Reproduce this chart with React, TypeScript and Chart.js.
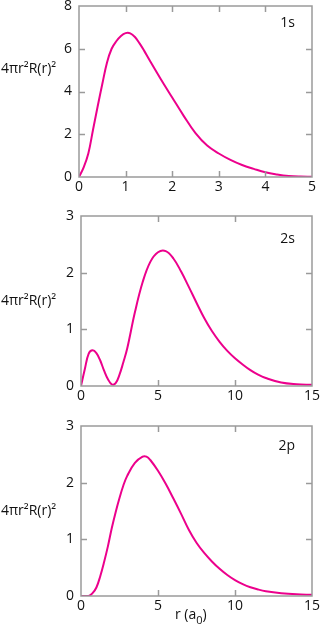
import React, { useEffect, useRef } from "react";
import { Chart, registerables } from "chart.js";

Chart.register(...registerables);

// ---- data ----
const r1s = [0, 0.1, 0.2, 0.3, 0.4, 0.5, 0.6, 0.7, 0.8, 0.9, 1.0, 1.1, 1.2, 1.3, 1.4, 1.5, 1.75, 2.0, 2.25, 2.5, 2.75, 3.0, 3.25, 3.5, 3.75, 4.0, 4.25, 4.5, 4.75, 5.0];
const p1s = [0, 0.45, 1.1, 2.2, 3.3, 4.35, 5.35, 6.0, 6.35, 6.6, 6.73, 6.72, 6.55, 6.25, 5.9, 5.52, 4.6, 3.72, 2.85, 2.05, 1.47, 1.1, 0.8, 0.56, 0.38, 0.22, 0.12, 0.05, 0.02, 0.01];

const r2s = [0, 0.25, 0.5, 0.75, 1.0, 1.25, 1.5, 1.75, 2.0, 2.25, 2.5, 2.75, 3.0, 3.5, 4.0, 4.5, 5.0, 5.5, 6.0, 6.5, 7.0, 7.5, 8.0, 8.5, 9.0, 9.5, 10.0, 10.5, 11.0, 11.5, 12.0, 13.0, 14.0, 15.0];
const p2s = [0, 0.3, 0.57, 0.63, 0.58, 0.45, 0.27, 0.12, 0.03, 0.05, 0.2, 0.42, 0.66, 1.3, 1.83, 2.19, 2.36, 2.38, 2.25, 2.02, 1.75, 1.47, 1.2, 0.97, 0.78, 0.62, 0.49, 0.38, 0.28, 0.2, 0.14, 0.06, 0.03, 0.02];

const r2p = [0, 0.5, 0.75, 1.0, 1.25, 1.5, 1.75, 2.0, 2.25, 2.5, 2.75, 3.0, 3.5, 4.0, 4.25, 4.5, 5.0, 5.5, 6.0, 6.5, 7.0, 7.5, 8.0, 8.5, 9.0, 9.5, 10.0, 10.5, 11.0, 11.5, 12.0, 13.0, 14.0, 15.0];
const p2p = [0, 0, 0.05, 0.15, 0.35, 0.6, 0.88, 1.2, 1.48, 1.73, 1.95, 2.12, 2.35, 2.46, 2.46, 2.4, 2.21, 1.98, 1.72, 1.45, 1.17, 0.94, 0.76, 0.61, 0.48, 0.37, 0.28, 0.21, 0.155, 0.115, 0.085, 0.05, 0.03, 0.02];

const orbitalLabels = ["1s", "2s", "2p"];
const yAxisTitle = "4\u03c0r\u00b2R(r)\u00b2";
const xAxisTitleMain = "r (a";
const xAxisTitleSub = "0";
const xAxisTitleEnd = ")";

const xMaxes = [5, 15, 15];
const xSteps = [1, 5, 5];
const yMaxes = [8, 3, 3];
const ySteps = [2, 1, 1];

// ---- styling ----
const FONT = "'Open Sans', 'Noto Sans', 'DejaVu Sans', sans-serif";
const LINE = "#ec008c";
const AXIS = "#9a9a9a";
const TEXT = "#111111";

type PanelCfg = {
  top: number;
  height: number;
  padTop: number;
  yWidth: number;
  xHeight: number;
  titleFrac: number;
  tagDy: number;
  showXTitle: boolean;
};

const panels: PanelCfg[] = [
  { top: 0, height: 200, padTop: 6, yWidth: 79, xHeight: 23, titleFrac: 0.368, tagDy: 17, showXTitle: false },
  { top: 200, height: 215, padTop: 16, yWidth: 81, xHeight: 29, titleFrac: 0.5, tagDy: 23, showXTitle: false },
  { top: 415, height: 224, padTop: 11, yWidth: 81, xHeight: 43, titleFrac: 0.5, tagDy: 20, showXTitle: true },
];

const framePlugin = {
  id: "frame",
  afterDraw(chart: any, _args: any, opts: any) {
    const { ctx, chartArea: a, scales } = chart;
    ctx.save();
    ctx.strokeStyle = AXIS;
    ctx.lineWidth = 1.5;
    ctx.strokeRect(a.left, a.top, a.right - a.left, a.bottom - a.top);
    const tl = 6;
    ctx.beginPath();
    scales.x.ticks.forEach((t: any) => {
      const px = Math.round(scales.x.getPixelForValue(t.value)) + 0.5;
      if (px <= a.left + 2 || px >= a.right - 2) return;
      ctx.moveTo(px, a.bottom);
      ctx.lineTo(px, a.bottom - tl);
      ctx.moveTo(px, a.top);
      ctx.lineTo(px, a.top + tl);
    });
    scales.y.ticks.forEach((t: any) => {
      const py = Math.round(scales.y.getPixelForValue(t.value)) + 0.5;
      if (py <= a.top + 2 || py >= a.bottom - 2) return;
      ctx.moveTo(a.left, py);
      ctx.lineTo(a.left + tl, py);
      ctx.moveTo(a.right, py);
      ctx.lineTo(a.right - tl, py);
    });
    ctx.stroke();

    ctx.fillStyle = TEXT;
    ctx.font = `14px ${FONT}`;
    ctx.textBaseline = "middle";
    ctx.textAlign = "left";
    ctx.fillText(yAxisTitle, 1, a.top + (a.bottom - a.top) * opts.titleFrac);
    ctx.textAlign = "right";
    ctx.fillText(opts.tag, a.right - 17, a.top + opts.tagDy);

    if (opts.showXTitle) {
      ctx.textBaseline = "alphabetic";
      ctx.textAlign = "left";
      const base = a.bottom + 23;
      let x = 175;
      ctx.font = `14px ${FONT}`;
      ctx.fillText(xAxisTitleMain, x, base);
      x += ctx.measureText(xAxisTitleMain).width;
      ctx.font = `11px ${FONT}`;
      ctx.fillText(xAxisTitleSub, x, base + 5);
      x += ctx.measureText(xAxisTitleSub).width;
      ctx.font = `14px ${FONT}`;
      ctx.fillText(xAxisTitleEnd, x, base);
    }
    ctx.restore();
  },
};

function Panel({ idx, rs, ps }: { idx: number; rs: number[]; ps: number[] }) {
  const ref = useRef<HTMLCanvasElement | null>(null);
  const cfg = panels[idx];
  useEffect(() => {
    if (!ref.current) return;
    const pts = rs.map((r, i) => ({ x: r, y: ps[i] }));
    const tickFont = { family: FONT, size: 14 };
    const chart = new Chart(ref.current, {
      type: "line",
      data: {
        datasets: [
          {
            data: pts,
            borderColor: LINE,
            borderWidth: 2,
            pointRadius: 0,
            fill: false,
            tension: 0.4,
          },
        ],
      },
      options: {
        animation: false,
        responsive: false,
        devicePixelRatio: 1,
        layout: { padding: { top: cfg.padTop, right: 9, left: 0, bottom: 0 } },
        plugins: {
          legend: { display: false },
          tooltip: { enabled: false },
          frame: { tag: orbitalLabels[idx], titleFrac: cfg.titleFrac, tagDy: cfg.tagDy, showXTitle: cfg.showXTitle },
        } as any,
        scales: {
          x: {
            type: "linear",
            min: 0,
            max: xMaxes[idx],
            ticks: { stepSize: xSteps[idx], color: TEXT, font: tickFont, padding: 2, maxRotation: 0, autoSkip: false },
            grid: { display: false, drawTicks: false },
            border: { display: false },
            afterFit: (s: any) => {
              s.height = cfg.xHeight;
              s.paddingLeft = 0;
              s.paddingRight = 0;
            },
          },
          y: {
            min: 0,
            max: yMaxes[idx],
            ticks: { stepSize: ySteps[idx], color: TEXT, font: tickFont, padding: 7 },
            grid: { display: false, drawTicks: false },
            border: { display: false },
            afterFit: (s: any) => {
              s.width = cfg.yWidth;
              s.paddingTop = 0;
              s.paddingBottom = 0;
            },
          },
        },
      },
      plugins: [framePlugin as any],
    });
    return () => chart.destroy();
  }, []);
  return (
    <canvas
      ref={ref}
      width={321}
      height={cfg.height}
      style={{ position: "absolute", left: 0, top: cfg.top, width: 321, height: cfg.height }}
    />
  );
}

export default function App() {
  return (
    <div style={{ position: "absolute", left: 0, top: 0, width: 321, height: 639, background: "#fff" }}>
      <Panel idx={0} rs={r1s} ps={p1s} />
      <Panel idx={1} rs={r2s} ps={p2s} />
      <Panel idx={2} rs={r2p} ps={p2p} />
    </div>
  );
}
